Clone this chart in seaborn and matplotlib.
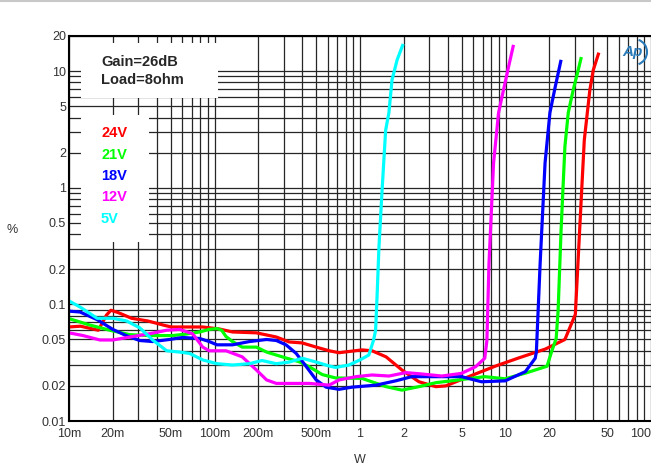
import numpy as np
import matplotlib.pyplot as plt
import matplotlib.patches as patches
from matplotlib.lines import Line2D
from matplotlib.ticker import FixedLocator, LogLocator, NullFormatter
import pandas as pd
import seaborn as sns

# THD+N (%) vs output power (W)
red_w = [0.01, 0.012, 0.0159, 0.0169, 0.0181, 0.0194, 0.0218, 0.0269, 0.0349, 0.0454,
         0.0505, 0.0707, 0.083, 0.108, 0.133, 0.194, 0.266, 0.326, 0.401, 0.50,
         0.614, 0.718, 1.03, 1.21, 1.51, 1.94, 2.54, 3.32, 3.88, 5.58,
         8.55, 12.3, 18.8, 25.6, 30.2, 33.2, 34.8, 38.0, 40.1, 43.8]
red_pct = [0.064, 0.065, 0.060, 0.069, 0.081, 0.089, 0.085, 0.076, 0.072, 0.066,
           0.064, 0.064, 0.064, 0.0615, 0.058, 0.057, 0.0525, 0.0476, 0.0467, 0.043,
           0.040, 0.0385, 0.0407, 0.040, 0.0355, 0.0274, 0.0217, 0.0197, 0.020, 0.024,
           0.0296, 0.0347, 0.0414, 0.050, 0.082, 0.83, 2.57, 6.9, 10.2, 14.4]

green_w = [0.01, 0.0139, 0.0191, 0.0262, 0.0358, 0.0516, 0.0643, 0.079, 0.092, 0.104,
           0.112, 0.12, 0.133, 0.155, 0.194, 0.228, 0.31, 0.382, 0.448, 0.55,
           0.68, 1.03, 1.51, 1.94, 2.54, 3.32, 4.76, 7.2, 9.95, 13.8,
           19.3, 20.7, 22.3, 23.0, 24.1, 25.6, 27.0, 29.2, 31.6, 33.2]
green_pct = [0.0755, 0.0665, 0.060, 0.055, 0.054, 0.054, 0.0557, 0.058, 0.061, 0.062,
             0.060, 0.053, 0.048, 0.043, 0.043, 0.039, 0.0347, 0.0322, 0.0292, 0.025,
             0.0234, 0.0232, 0.0197, 0.0184, 0.0197, 0.0213, 0.0225, 0.024, 0.023, 0.0258,
             0.0295, 0.039, 0.051, 0.089, 0.434, 2.25, 4.4, 6.9, 10.2, 13.2]

blue_w = [0.01, 0.0119, 0.0156, 0.02, 0.0247, 0.0306, 0.0376, 0.049, 0.0603, 0.079,
          0.092, 0.104, 0.133, 0.174, 0.228, 0.266, 0.31, 0.364, 0.428, 0.5,
          0.585, 0.718, 0.88, 1.29, 1.76, 2.27, 3.32, 4.98, 6.85, 9.95,
          13.7, 16.0, 16.3, 17.3, 18.7, 20.2, 22.0, 24.1]
blue_pct = [0.0875, 0.086, 0.074, 0.061, 0.054, 0.049, 0.048, 0.050, 0.052, 0.051,
            0.048, 0.045, 0.045, 0.048, 0.050, 0.049, 0.045, 0.038, 0.0292, 0.0225,
            0.0195, 0.0187, 0.0195, 0.0203, 0.0221, 0.024, 0.024, 0.024, 0.0217, 0.0221,
            0.0265, 0.0345, 0.039, 0.224, 1.63, 4.4, 7.4, 12.5]

magenta_w = [0.01, 0.0125, 0.0163, 0.02, 0.0274, 0.0358, 0.0469, 0.0576, 0.0707, 0.083,
             0.092, 0.12, 0.155, 0.194, 0.228, 0.266, 0.448, 0.614, 0.718, 0.94,
             1.21, 1.58, 2.07, 2.66, 3.65, 4.98, 6.23, 7.2, 7.45, 7.7,
             8.28, 8.96, 9.69, 10.5, 11.35]
magenta_pct = [0.057, 0.054, 0.0495, 0.0495, 0.053, 0.056, 0.060, 0.061, 0.056, 0.043,
               0.040, 0.040, 0.0355, 0.0274, 0.0225, 0.021, 0.021, 0.0203, 0.0225, 0.024,
               0.0248, 0.0243, 0.026, 0.0253, 0.0243, 0.0256, 0.0292, 0.0345, 0.049, 0.224,
               1.63, 4.4, 6.9, 10.9, 16.8]

cyan_w = [0.01, 0.0119, 0.0156, 0.02, 0.0249, 0.0306, 0.0376, 0.0469, 0.0576, 0.0673,
          0.083, 0.104, 0.133, 0.174, 0.212, 0.266, 0.326, 0.401, 0.5, 0.614,
          0.68, 0.84, 1.0, 1.15, 1.24, 1.28, 1.31, 1.35, 1.41, 1.50,
          1.58, 1.66, 1.80, 1.98]
cyan_pct = [0.107, 0.095, 0.076, 0.076, 0.072, 0.063, 0.0495, 0.040, 0.039, 0.038,
            0.0334, 0.031, 0.0302, 0.031, 0.033, 0.031, 0.032, 0.0345, 0.032, 0.0296,
            0.0288, 0.0302, 0.0334, 0.0368, 0.0495, 0.060, 0.117, 0.31, 0.84, 3.1,
            4.4, 8.4, 12.5, 17.1]

supplies = ['24V', '21V', '18V', '12V', '5V']
colors = ['#ff0000', '#00ff00', '#0000ff', '#ff00ff', '#00ffff']

x_ticks = [0.01, 0.02, 0.05, 0.1, 0.2, 0.5, 1, 2, 5, 10, 20, 50, 100]
x_labels = ['10m', '20m', '50m', '100m', '200m', '500m', '1', '2', '5', '10', '20', '50', '100']
y_ticks = [0.01, 0.02, 0.05, 0.1, 0.2, 0.5, 1, 2, 5, 10, 20]
y_labels = ['0.01', '0.02', '0.05', '0.1', '0.2', '0.5', '1', '2', '5', '10', '20']

# long table for seaborn
series = [(red_w, red_pct), (green_w, green_pct), (blue_w, blue_pct),
          (magenta_w, magenta_pct), (cyan_w, cyan_pct)]
frames = []
for name, (w, p) in zip(supplies, series):
    frames.append(pd.DataFrame({'W': w, 'pct': p, 'Supply': name}))
df = pd.concat(frames, ignore_index=True)

sns.set_style('white')
plt.rcParams['font.family'] = ['Liberation Sans', 'DejaVu Sans']

fig = plt.figure(figsize=(6.51, 4.67), dpi=100)
ax = fig.add_axes([69 / 651, 1 - 421 / 467, 582 / 651, 385 / 467])

sns.lineplot(data=df, x='W', y='pct', hue='Supply', hue_order=supplies,
             palette=colors, estimator=None, sort=False, legend=False,
             lw=2.3, ax=ax)
for ln in ax.lines:
    ln.set_solid_joinstyle('round')
    ln.set_solid_capstyle('butt')

ax.set_xscale('log')
ax.set_yscale('log')
ax.set_xlim(0.01, 100)
ax.set_ylim(0.01, 20)

ax.xaxis.set_major_locator(FixedLocator(x_ticks))
ax.set_xticklabels(x_labels)
ax.yaxis.set_major_locator(FixedLocator(y_ticks))
ax.set_yticklabels(y_labels)
ax.xaxis.set_minor_locator(LogLocator(base=10, subs=np.arange(1, 10)))
ax.yaxis.set_minor_locator(LogLocator(base=10, subs=np.arange(1, 10)))
ax.xaxis.set_minor_formatter(NullFormatter())
ax.yaxis.set_minor_formatter(NullFormatter())
ax.tick_params(which='both', length=0, labelsize=9, labelcolor='#333333')
ax.tick_params(axis='x', pad=5)
ax.tick_params(axis='y', pad=2)
ax.xaxis.get_ticklabels()[-1].set_horizontalalignment('right')

ax.set_axisbelow(True)
ax.grid(which='both', color='#262626', lw=0.9)
ax.set_xlabel('')
ax.set_ylabel('')

for side in ['left', 'bottom', 'top']:
    ax.spines[side].set_color('black')
    ax.spines[side].set_linewidth(1.5)
ax.spines['right'].set_visible(False)

# white boxes behind the annotations
ax.add_patch(patches.Rectangle((0.0206, 0.839), 0.235, 0.143, transform=ax.transAxes,
                               facecolor='white', edgecolor='none', zorder=1.5))
ax.add_patch(patches.Rectangle((0.0206, 0.465), 0.116, 0.33, transform=ax.transAxes,
                               facecolor='white', edgecolor='none', zorder=1.5))

fig.text(101 / 651, 1 - 62 / 467, 'Gain=26dB', fontsize=10.5, weight='bold', va='center')
fig.text(101 / 651, 1 - 80 / 467, 'Load=8ohm', fontsize=10.5, weight='bold', va='center')

legend_y = [133, 155, 176, 197, 219]
for name, col, yy in zip(supplies, colors, legend_y):
    fig.text(101 / 651, 1 - yy / 467, name, color=col, fontsize=10.5,
             weight='bold', va='center')

fig.text(12 / 651, 1 - 230 / 467, '%', fontsize=9, color='#333333', ha='center', va='center')
fig.text(360 / 651, 1 - 460 / 467, 'W', fontsize=9, color='#333333', ha='center', va='center')

# AP logo
fig.text(633 / 651, 1 - 52 / 467, 'Ap', fontsize=11, style='italic', weight='bold',
         color='#2b7bb9', ha='center', va='center')
fig.add_artist(patches.Arc((634 / 651, 1 - 52 / 467), 26 / 651, 26 / 467,
                           theta1=-75, theta2=75, transform=fig.transFigure,
                           color='#2b7bb9', lw=1.5))

fig.add_artist(Line2D([0, 1], [1 - 1 / 467, 1 - 1 / 467], color='#c8c8c8', lw=1.5))

plt.savefig('out.png', dpi=100)
